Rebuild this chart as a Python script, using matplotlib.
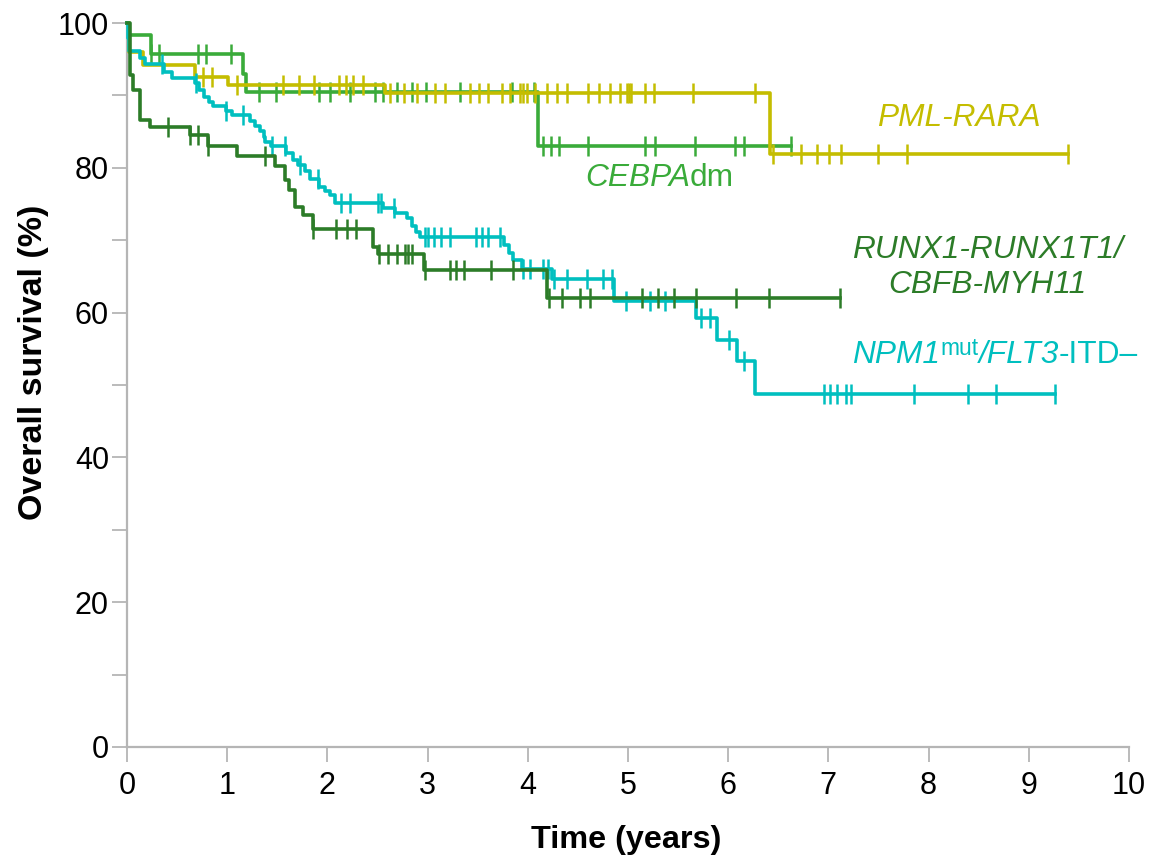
import numpy as np
import matplotlib
matplotlib.use('Agg')
import matplotlib.pyplot as plt

plt.rcParams['font.family'] = ['Liberation Sans', 'DejaVu Sans']

# Kaplan-Meier steps: (time in years, survival %)
pml_t = [0, 0.02, 0.16, 0.68, 1.01, 2.58, 6.42]
pml_s = [100, 96.0, 94.2, 92.6, 91.5, 90.3, 81.9]
pml_end = 9.39
pml_cens = [0.76, 0.85, 1.10, 1.56, 1.72, 1.87, 2.12, 2.19, 2.26, 2.36, 2.63, 2.76,
            2.89, 3.07, 3.17, 3.42, 3.51, 3.60, 3.74, 3.82, 3.92, 3.95, 3.99, 4.07,
            4.19, 4.29, 4.39, 4.60, 4.71, 4.82, 4.92, 4.99, 5.01, 5.03, 5.17, 5.26,
            5.65, 6.27, 6.45, 6.73, 6.89, 7.01, 7.13, 7.50, 7.78, 9.39]

cebpa_t = [0, 0.02, 0.24, 1.16, 1.19, 4.10]
cebpa_s = [100, 98.3, 95.7, 93.0, 90.5, 83.0]
cebpa_end = 6.63
cebpa_cens = [0.24, 0.32, 0.71, 0.79, 1.04, 1.32, 1.49, 1.92, 2.03, 2.23, 2.48, 2.56,
              2.70, 2.84, 2.98, 3.32, 3.84, 4.06, 4.15, 4.23, 4.31, 4.60, 5.17, 5.27,
              5.67, 6.07, 6.16, 6.63]

runx_t = [0, 0.03, 0.06, 0.13, 0.23, 0.63, 0.81, 1.10, 1.48, 1.58, 1.62, 1.68, 1.76,
          1.86, 2.46, 2.51, 2.96, 4.19]
runx_s = [100, 92.8, 90.7, 86.6, 85.6, 84.5, 83.0, 81.7, 80.2, 78.3, 77.0, 74.6, 73.5,
          71.6, 69.1, 68.1, 65.9, 62.0]
runx_end = 7.12
runx_cens = [0.41, 0.63, 0.71, 0.81, 1.38, 1.86, 2.09, 2.20, 2.29, 2.52, 2.61, 2.70,
             2.77, 2.80, 2.84, 2.97, 3.22, 3.28, 3.36, 3.63, 3.85, 4.21, 4.34, 4.52,
             4.62, 5.14, 5.30, 5.46, 5.68, 6.08, 6.41, 7.12]

npm_t = [0, 0.01, 0.02, 0.13, 0.18, 0.37, 0.45, 0.68, 0.72, 0.77, 0.82, 0.86, 0.99,
         1.05, 1.23, 1.28, 1.33, 1.37, 1.38, 1.44, 1.59, 1.66, 1.71, 1.78, 1.83, 1.92,
         1.98, 2.03, 2.08, 2.56, 2.68, 2.79, 2.84, 2.88, 2.92, 3.76, 3.81, 3.85, 3.94,
         4.24, 4.86, 5.68, 5.89, 6.09, 6.27]
npm_s = [100, 98.0, 96.1, 95.2, 94.3, 93.3, 92.4, 91.7, 90.7, 89.8, 89.1, 88.6, 87.8,
         87.3, 86.4, 85.8, 85.1, 84.2, 83.6, 83.0, 82.0, 81.1, 80.4, 79.5, 78.4, 77.3,
         76.8, 76.2, 75.1, 74.4, 73.8, 73.0, 72.0, 71.2, 70.5, 69.3, 68.2, 67.3, 66.0,
         64.7, 61.6, 59.3, 56.2, 53.3, 48.7]
npm_end = 9.26
npm_cens = [0.35, 0.69, 0.99, 1.16, 1.45, 1.58, 1.73, 1.91, 2.14, 2.23, 2.51, 2.54,
            2.67, 2.97, 3.00, 3.06, 3.13, 3.22, 3.48, 3.54, 3.60, 3.72, 3.95, 4.02,
            4.15, 4.20, 4.26, 4.39, 4.59, 4.75, 4.84, 4.98, 5.22, 5.37, 5.73, 5.82,
            6.01, 6.16, 6.96, 7.02, 7.09, 7.18, 7.23, 7.85, 8.39, 8.67, 9.26]

c_pml = '#c4bd00'
c_cebpa = '#3aab3a'
c_runx = '#2c7c28'
c_npm = '#00bfbf'
grey = '#b5b5b5'

fig = plt.figure(figsize=(11.5, 8.59), dpi=100)
ax = fig.add_axes([0.1104, 0.1304, 0.8713, 0.8428])


def km(t, s, end, cens, color, z):
    t = np.array(t + [end])
    s = np.array(s + [s[-1]])
    ax.step(t, s, where='post', color=color, lw=2.6, zorder=z, clip_on=False)
    idx = np.searchsorted(t[:-1], cens, side='right') - 1
    ax.plot(cens, s[idx], ls='none', marker='|', ms=14, mew=1.8, color=color,
            zorder=z, clip_on=False)


km(cebpa_t, cebpa_s, cebpa_end, cebpa_cens, c_cebpa, 3)
km(pml_t, pml_s, pml_end, pml_cens, c_pml, 4)
km(npm_t, npm_s, npm_end, npm_cens, c_npm, 5)
km(runx_t, runx_s, runx_end, runx_cens, c_runx, 6)

ax.set_xlim(0, 10)
ax.set_ylim(0, 100)
ax.set_xticks(range(0, 11))
ax.set_yticks(range(0, 101, 20))
ax.set_yticks(range(10, 100, 20), minor=True)
for side in ['top', 'right']:
    ax.spines[side].set_visible(False)
for side in ['left', 'bottom']:
    ax.spines[side].set_color(grey)
    ax.spines[side].set_linewidth(1.6)
ax.tick_params(axis='both', which='both', color=grey, width=1.3, length=11,
               labelsize=22)
ax.tick_params(axis='y', pad=2)
ax.tick_params(axis='x', pad=6)

ax.set_xlabel('Time (years)', fontsize=23.3, fontweight='bold')
ax.xaxis.set_label_coords(0.498, -0.108)
ax.set_ylabel('Overall survival (%)', fontsize=24.5, fontweight='bold')
ax.yaxis.set_label_coords(-0.078, 0.532)

fs = 22.8
ax.text(7.49, 86.9, 'PML-RARA', color=c_pml, fontsize=fs, style='italic', va='center')

t = ax.text(4.57, 78.6, 'CEBPA', color=c_cebpa, fontsize=fs, style='italic',
            va='center')
ax.annotate('dm', xy=(1, 0), xycoords=t, va='bottom', color=c_cebpa, fontsize=fs)

ax.text(8.59, 66.2, 'RUNX1-RUNX1T1/\nCBFB-MYH11', color=c_runx, fontsize=fs,
        style='italic', ha='center', va='center', multialignment='center',
        linespacing=1.2)

t1 = ax.text(7.24, 54.1, 'NPM1', color=c_npm, fontsize=fs, style='italic',
             va='center')
t2 = ax.annotate('mut', xy=(1, 0.5), xycoords=t1, va='baseline', color=c_npm,
                 fontsize=fs * 0.72)
t3 = ax.annotate('/FLT3', xy=(1, 0), xycoords=(t2, t1), va='bottom', color=c_npm,
                 fontsize=fs, style='italic')
ax.annotate('-ITD–', xy=(1, 0), xycoords=(t3, t1), va='bottom', color=c_npm,
            fontsize=fs)

fig.savefig('out.png', dpi=100)
